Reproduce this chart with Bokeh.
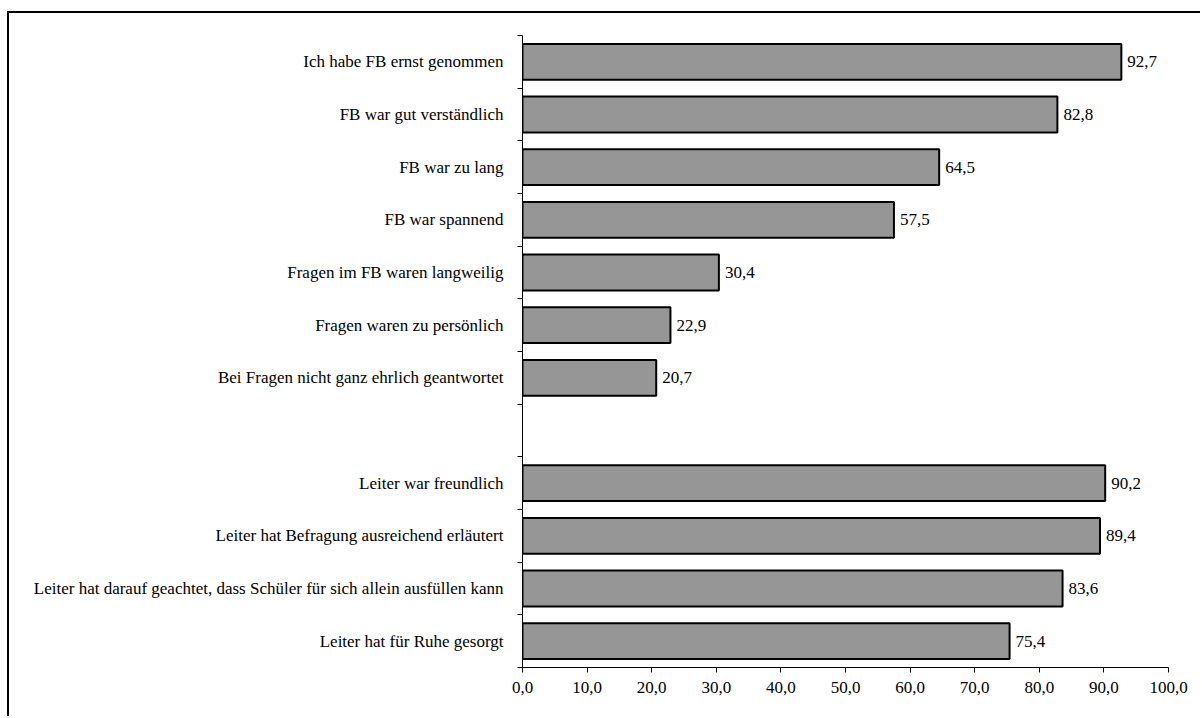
from bokeh.plotting import figure
from bokeh.models import Range1d, LinearAxis, FixedTicker, ColumnDataSource
from bokeh.core.properties import value
from bokeh.embed import file_html
from bokeh.resources import INLINE

# --- data ---
items_fb = [
    "Ich habe FB ernst genommen",
    "FB war gut verständlich",
    "FB war zu lang",
    "FB war spannend",
    "Fragen im FB waren langweilig",
    "Fragen waren zu persönlich",
    "Bei Fragen nicht ganz ehrlich geantwortet",
]
values_fb = [92.7, 82.8, 64.5, 57.5, 30.4, 22.9, 20.7]

items_leiter = [
    "Leiter war freundlich",
    "Leiter hat Befragung ausreichend erläutert",
    "Leiter hat darauf geachtet, dass Schüler für sich allein ausfüllen kann",
    "Leiter hat für Ruhe gesorgt",
]
values_leiter = [90.2, 89.4, 83.6, 75.4]

x_ticks = [0, 10, 20, 30, 40, 50, 60, 70, 80, 90, 100]

FONT = "Liberation Serif"
FS = "17px"

def de(v):
    return f"{v:.1f}".replace(".", ",")

# slots top to bottom; one empty slot separates the two groups
slots = items_fb + [""] + items_leiter
n = len(slots)
slot_pos = {name: n - i - 0.5 for i, name in enumerate(slots)}

bar_items = items_fb + items_leiter
bar_values = values_fb + values_leiter

src = ColumnDataSource(dict(
    y=[slot_pos[c] for c in bar_items],
    val=bar_values,
    lab=[de(v) for v in bar_values],
))

p = figure(width=1193, height=705, output_backend="svg", toolbar_location=None,
           x_range=Range1d(0, 100), y_range=Range1d(0, n),
           x_axis_location=None, y_axis_location=None,
           min_border_left=513, min_border_right=34,
           min_border_top=22, min_border_bottom=51)
p.outline_line_color = None
p.grid.visible = False
p.background_fill_color = "white"
p.border_fill_color = "white"
# outer chart border (only its left and top edges fall inside the window)
p.styles = {"margin-left": "7px", "margin-top": "11px",
            "border-left": "2px solid black", "border-top": "2px solid black"}

# bars
p.hbar(y="y", right="val", left=0, height=0.68, source=src,
       fill_color="#969696", line_color="black", line_width=2)

# value labels
p.text(x="val", y="y", text="lab", source=src, x_offset=6,
       text_baseline="middle", text_align="left",
       text_font=value(FONT), text_font_size=FS, text_color="black")

# category axis: labels at slot centres, ticks at slot boundaries
centers = [slot_pos[c] for c in bar_items]
bounds = list(range(n + 1))
y_axis = LinearAxis(ticker=FixedTicker(ticks=centers, minor_ticks=bounds),
                    major_label_overrides={slot_pos[c]: c for c in bar_items},
                    major_tick_line_color=None,
                    major_tick_out=0, major_tick_in=0,
                    minor_tick_out=5, minor_tick_in=0,
                    minor_tick_line_color="black",
                    axis_line_color="black",
                    major_label_standoff=14,
                    major_label_text_font=FONT,
                    major_label_text_font_size=FS,
                    major_label_text_color="black")
p.add_layout(y_axis, "left")

# x axis
x_axis = LinearAxis(ticker=FixedTicker(ticks=x_ticks),
                    major_label_overrides={t: de(t) for t in x_ticks},
                    major_tick_out=5, major_tick_in=0,
                    minor_tick_line_color=None,
                    major_label_standoff=9,
                    major_label_text_font=FONT,
                    major_label_text_font_size=FS,
                    major_label_text_color="black",
                    axis_line_color="black")
p.add_layout(x_axis, "below")

open("out.html", "w").write(file_html(p, INLINE))
